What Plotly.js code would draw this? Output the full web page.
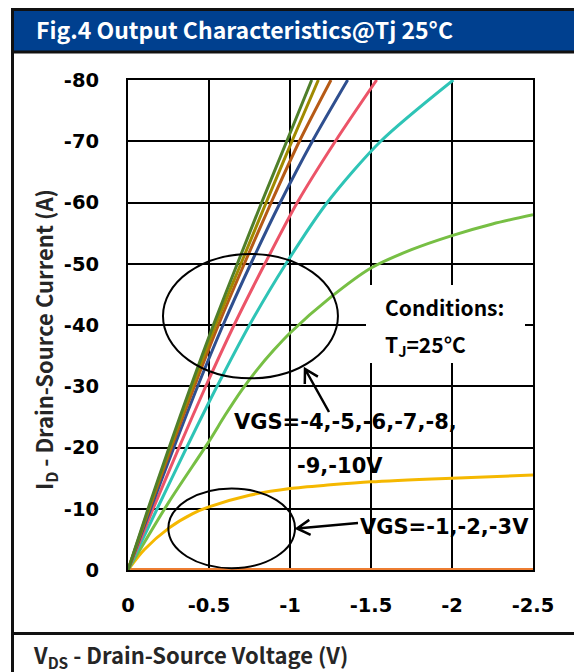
<!DOCTYPE html>
<html>
<head>
<meta charset="utf-8">
<script src="https://cdn.plot.ly/plotly-3.0.1.min.js"></script>
<style>html,body{margin:0;padding:0;background:#fff;}#chart{width:574px;height:672px;}</style>
</head>
<body>
<div id="chart"></div>
<script>
// ---- data ----
const currentLevels = [0, -10, -20, -30, -40, -50, -60, -70, -80];
const vdsVgs10 = [0, -0.124, -0.254, -0.388, -0.527, -0.675, -0.825, -0.98, -1.134];
const vdsVgs9  = [0, -0.128, -0.26, -0.398, -0.541, -0.697, -0.853, -1.012, -1.175];
const vdsVgs8  = [0, -0.132, -0.268, -0.41, -0.558, -0.718, -0.884, -1.058, -1.253];
const vdsVgs7  = [0, -0.14, -0.283, -0.43, -0.587, -0.758, -0.94, -1.138, -1.356];
const vdsVgs6  = [0, -0.155, -0.315, -0.48, -0.655, -0.845, -1.045, -1.28, -1.535];
const vdsVgs5  = [0, -0.18, -0.362, -0.55, -0.75, -0.975, -1.23, -1.56, -2.008];
const vdsVgs4  = [0, -0.25, -0.5, -0.6, -0.7, -0.8, -0.9, -1.0, -1.25, -1.5, -1.75, -2.0, -2.25, -2.5];
const idVgs4   = [0, -11, -21, -25.3, -29.3, -32.8, -35.9, -38.7, -44.5, -49.3, -52.3, -54.6, -56.5, -58];
const vdsVgs3  = [0, -0.1, -0.25, -0.4, -0.5, -0.75, -1, -1.25, -1.5, -2, -2.5];
const idVgs3   = [0, -3.3, -6.8, -9.2, -10.3, -12.2, -13.3, -13.9, -14.4, -15.0, -15.5];
const vdsLow   = [0, -2.5];
const idVgs1   = [0, 0];
const idVgs2   = [0, 0];
const xTickVals = [0, -0.5, -1, -1.5, -2, -2.5];
const xTickText = ['0', '-0.5', '-1', '-1.5', '-2', '-2.5'];
const yTickVals = [0, -10, -20, -30, -40, -50, -60, -70, -80];
const yTickText = ['0', '-10', '-20', '-30', '-40', '-50', '-60', '-70', '-80'];

const CJK = '"Noto Sans CJK SC", "Noto Sans", sans-serif';
const DJ = '"DejaVu Sans", sans-serif';

function mk(x, y, color, name) {
  return {x: x, y: y, type: 'scatter', mode: 'lines', name: name,
          line: {color: color, width: 3, shape: 'spline', smoothing: 0.8},
          hoverinfo: 'skip'};
}
const traces = [
  mk(vdsLow, idVgs1, '#9dc3e6', 'VGS=-1V'),
  mk(vdsLow, idVgs2, '#ed7d31', 'VGS=-2V'),
  mk(vdsVgs3, idVgs3, '#f5b800', 'VGS=-3V'),
  mk(vdsVgs4, idVgs4, '#77bf44', 'VGS=-4V'),
  mk(vdsVgs5, currentLevels, '#2ec4b6', 'VGS=-5V'),
  mk(vdsVgs6, currentLevels, '#ec5468', 'VGS=-6V'),
  mk(vdsVgs7, currentLevels, '#2f4f8f', 'VGS=-7V'),
  mk(vdsVgs8, currentLevels, '#b65a16', 'VGS=-8V'),
  mk(vdsVgs9, currentLevels, '#a08a00', 'VGS=-9V'),
  mk(vdsVgs10, currentLevels, '#4f7f2a', 'VGS=-10V')
];
traces[1].line.width = 4;

// ---- layout helpers (pixel -> paper) ----
const L = 128, R = 533, T = 80, B = 570;
function PX(x) { return (x - L) / (R - L); }
function PY(y) { return (B - y) / (B - T); }

function arrowPath(tx, ty, hx, hy) {
  const dx = tx - hx, dy = ty - hy, len = Math.hypot(dx, dy);
  const ux = dx / len, uy = dy / len, a = Math.PI / 6, h = 15;
  function rot(s) {
    const c = Math.cos(s * a), sn = Math.sin(s * a);
    return [hx + h * (ux * c - uy * sn), hy + h * (ux * sn + uy * c)];
  }
  const p1 = rot(1), p2 = rot(-1);
  const f = (x, y) => PX(x) + ' ' + PY(y);
  return 'M ' + f(tx, ty) + ' L ' + f(hx, hy) + ' M ' + f(p1[0], p1[1]) + ' L ' + f(hx, hy) + ' L ' + f(p2[0], p2[1]);
}

const shapes = [
  {type: 'rect', xref: 'paper', yref: 'paper', x0: PX(12.5), x1: PX(580), y0: PY(52), y1: PY(9.5),
   fillcolor: '#00408f', line: {color: '#111111', width: 3}, layer: 'above'},
  {type: 'line', xref: 'paper', yref: 'paper', x0: PX(12.5), x1: PX(12.5), y0: PY(52), y1: PY(680),
   line: {color: '#111111', width: 3}},
  {type: 'line', xref: 'paper', yref: 'paper', x0: PX(12), x1: PX(580), y0: PY(633.5), y1: PY(633.5),
   line: {color: '#111111', width: 3}},
  {type: 'rect', xref: 'paper', yref: 'paper', x0: PX(366), x1: PX(525), y0: PY(363), y1: PY(285),
   fillcolor: '#ffffff', line: {width: 0}, layer: 'above'},
  {type: 'circle', xref: 'x', yref: 'y', x0: -0.216, x1: -1.296, y0: -51.6, y1: -31.3,
   line: {color: '#000000', width: 2}, layer: 'above'},
  {type: 'circle', xref: 'x', yref: 'y', x0: -0.249, x1: -1.031, y0: -13.3, y1: -0.3,
   line: {color: '#000000', width: 2}, layer: 'above'},
  {type: 'path', xref: 'paper', yref: 'paper', path: arrowPath(329, 412, 305, 369),
   line: {color: '#000000', width: 2.5}, layer: 'above'},
  {type: 'path', xref: 'paper', yref: 'paper', path: arrowPath(358, 523, 297, 528.5),
   line: {color: '#000000', width: 2.5}, layer: 'above'}
];

function txt(text, x, y, size, color, family, extra) {
  return Object.assign({text: text, xref: 'paper', yref: 'paper', x: PX(x), y: PY(y),
    xanchor: 'left', yanchor: 'middle', showarrow: false,
    font: {family: family, size: size, color: color, weight: 700}}, extra || {});
}
const annotations = [
  txt('Fig.4 Output Characteristics@Tj 25°C', 34, 29, 23, '#ffffff', CJK),
  txt('Conditions:', 383, 307, 21, '#000000', CJK),
  txt('T<sub>J</sub>=25°C', 383, 345, 21, '#000000', CJK),
  txt('VGS=-4,-5,-6,-7,-8,', 232, 422, 21, '#000000', DJ),
  txt('-9,-10V', 295, 466, 21, '#000000', DJ),
  txt('VGS=-1,-2,-3V', 358, 527, 21, '#000000', DJ),
  txt('I<sub>D</sub> - Drain-Source Current (A)', 45, 340, 22, '#262626', CJK,
      {xanchor: 'center', textangle: -90}),
  txt('V<sub>DS</sub> - Drain-Source Voltage (V)', 31, 655, 22, '#262626', CJK)
];

const axisCommon = {
  showgrid: true, gridcolor: '#000000', gridwidth: 2,
  showline: true, linecolor: '#000000', linewidth: 2, mirror: true,
  zeroline: false, ticks: '', tickmode: 'array',
  tickfont: {family: DJ, size: 19.5, color: '#000000', weight: 700}
};
const layout = {
  width: 574, height: 672,
  margin: {l: L, r: 574 - R, t: T, b: 672 - B, pad: 0},
  paper_bgcolor: '#ffffff', plot_bgcolor: '#ffffff',
  showlegend: false,
  xaxis: Object.assign({}, axisCommon, {range: [0, -2.5], tickvals: xTickVals, ticktext: xTickText,
    ticklabelstandoff: 17}),
  yaxis: Object.assign({}, axisCommon, {range: [0, -80], tickvals: yTickVals, ticktext: yTickText,
    ticklabelstandoff: 23}),
  shapes: shapes,
  annotations: annotations
};
Plotly.newPlot('chart', traces, layout, {staticPlot: true, displayModeBar: false});
</script>
</body>
</html>
